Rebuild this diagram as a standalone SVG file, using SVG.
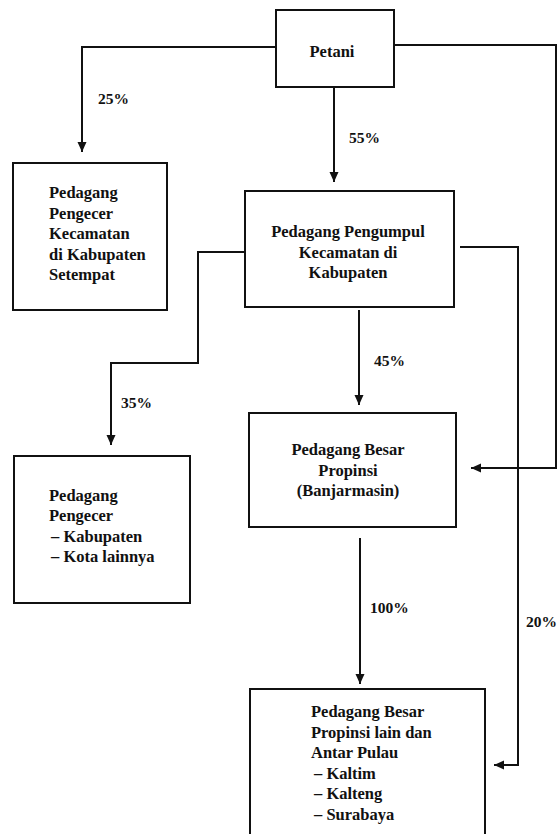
<svg xmlns="http://www.w3.org/2000/svg" width="558" height="834" viewBox="0 0 558 834">
<style>
.box{fill:#fff;stroke:#111;stroke-width:2}
.t{font-family:"Liberation Serif","Times New Roman",serif;font-weight:bold;font-size:16.5px;fill:#111}
.c{text-anchor:middle}
.ln{fill:none;stroke:#111;stroke-width:2;marker-end:url(#ah)}
.lb{font-family:"Liberation Serif","Times New Roman",serif;font-weight:bold;font-size:15.5px;fill:#111}
</style>
<defs>
<marker id="ah" markerUnits="userSpaceOnUse" markerWidth="10" markerHeight="12" viewBox="0 0 10 12" refX="10" refY="6" orient="auto">
<path d="M0,1.5 L10,6 L0,10.5 Z" fill="#111"/>
</marker>
</defs>
<rect width="558" height="834" fill="#fff"/>
<g id="connectors">
<polyline class="ln" points="276,47 82,47 82,152"/>
<polyline class="ln" points="334,87 334,182"/>
<polyline class="ln" points="394,45 556,45 556,468 471,468"/>
<polyline class="ln" points="245,252 198,252 198,363 111,363 111,445"/>
<polyline class="ln" points="359,310 359,405"/>
<polyline class="ln" points="460,247 518,247 518,765 494,765"/>
<polyline class="ln" points="360,538 360,684"/>
<text class="lb" x="98" y="104">25%</text>
<text class="lb" x="349" y="143">55%</text>
<text class="lb" x="121" y="408">35%</text>
<text class="lb" x="374" y="366">45%</text>
<text class="lb" x="370" y="613">100%</text>
<text class="lb" x="526" y="627">20%</text>
</g>
<g id="petani">
<rect class="box" x="276" y="10" width="118" height="77"/>
<text class="t c" x="332" y="57">Petani</text>
</g>
<g id="pengecer-kecamatan">
<rect class="box" x="13" y="163" width="154" height="147"/>
<text class="t" x="49" y="198">Pedagang</text>
<text class="t" x="49" y="218.5">Pengecer</text>
<text class="t" x="49" y="239">Kecamatan</text>
<text class="t" x="49" y="259.5">di Kabupaten</text>
<text class="t" x="49" y="280">Setempat</text>
</g>
<g id="pengumpul">
<rect class="box" x="245" y="191" width="209" height="116"/>
<text class="t c" x="348" y="237">Pedagang Pengumpul</text>
<text class="t c" x="348" y="257.5">Kecamatan di</text>
<text class="t c" x="348" y="278">Kabupaten</text>
</g>
<g id="besar-propinsi">
<rect class="box" x="249" y="413" width="207" height="114"/>
<text class="t c" x="348" y="455">Pedagang Besar</text>
<text class="t c" x="348" y="475.5">Propinsi</text>
<text class="t c" x="348" y="496">(Banjarmasin)</text>
</g>
<g id="pengecer-kabupaten">
<rect class="box" x="14" y="456" width="176" height="147"/>
<text class="t" x="49" y="501">Pedagang</text>
<text class="t" x="49" y="521">Pengecer</text>
<text class="t" x="51" y="541.5">– Kabupaten</text>
<text class="t" x="51" y="562">– Kota lainnya</text>
</g>
<g id="besar-lain">
<rect class="box" x="250" y="689" width="235" height="160"/>
<text class="t" x="311" y="717">Pedagang Besar</text>
<text class="t" x="311" y="737.5">Propinsi lain dan</text>
<text class="t" x="311" y="758">Antar Pulau</text>
<text class="t" x="314" y="778.5">– Kaltim</text>
<text class="t" x="314" y="799">– Kalteng</text>
<text class="t" x="314" y="819.5">– Surabaya</text>
</g>
</svg>
